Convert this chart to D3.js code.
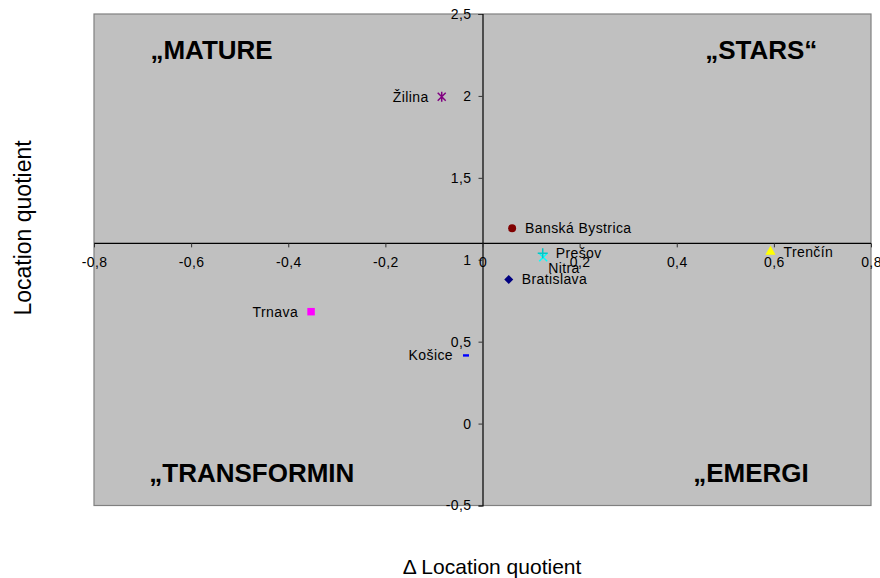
<!DOCTYPE html>
<html><head><meta charset="utf-8">
<script src="https://cdn.jsdelivr.net/npm/d3@7"></script>
<style>body{margin:0;background:#fff;} text{font-family:"Liberation Sans",Arial,sans-serif;}</style>
</head><body>
<svg id="c" width="880" height="578"></svg>
<script>
// ---- data ----
const regions = ["Bratislava","Trnava","Trenčín","Nitra","Žilina","Banská Bystrica","Prešov","Košice"];
const deltaLQ = [0.054, -0.353, 0.593, 0.125, -0.084, 0.061, 0.124, -0.034];
const lq      = [0.88, 0.683, 1.049, 1.015, 1.995, 1.192, 1.039, 0.416];
const xTicks = [-0.8,-0.6,-0.4,-0.2,0,0.2,0.4,0.6,0.8];
const yTicks = [-0.5,0,0.5,1,1.5,2,2.5];
const quadrantLabels = ["„MATURE","„STARS“","„TRANSFORMIN","„EMERGI"];
const xTitle = "\u0394 Location quotient";
const yTitle = "Location quotient";
const axisCrossY = 1.1;

// ---- styling (not data) ----
const markerTypes = ["diamond","square","triangle","x","star","circle","plus","dash"];
const markerColors = ["#000080","#FF00FF","#FFFF00","#00FFFF","#800080","#800000","#00C8C8","#0000FF"];
const labelSide = ["right","left","right","below","left","right","right","left"];

const svg = d3.select("#c");
const L = 94, R = 871, T = 14, B = 505.5;
const x = d3.scaleLinear().domain([-0.8,0.8]).range([L,R]);
const y = d3.scaleLinear().domain([-0.5,2.5]).range([B,T]);
const fmt = d => String(d).replace(".", ",");

svg.append("rect").attr("x",L).attr("y",T).attr("width",R-L).attr("height",B-T)
  .attr("fill","#C0C0C0").attr("stroke","#808080").attr("stroke-width",1.2);

// quadrant labels (centres in data space)
const ql = [[-0.558, 2.28],[0.574, 2.28],[-0.475, -0.3],[0.553, -0.3]];
quadrantLabels.forEach((t,i)=>{
  svg.append("text").attr("x",x(ql[i][0])).attr("y",y(ql[i][1])).attr("text-anchor","middle")
    .attr("dominant-baseline","central").style("font-size","26px").attr("font-weight","bold")
    .attr("fill","#000").text(t);
});

// Y axis at x=0
const yAxis = d3.axisLeft(y).tickValues(yTicks).tickFormat(fmt).tickSize(4).tickPadding(7);
const gy = svg.append("g").attr("transform",`translate(${x(0)},0)`).call(yAxis);
// X axis crossing at y=axisCrossY
const xAxis = d3.axisBottom(x).tickValues(xTicks).tickFormat(fmt).tickSize(4).tickPadding(10);
const gx = svg.append("g").attr("transform",`translate(0,${y(axisCrossY)})`).call(xAxis);
[gx,gy].forEach(g=>{
  g.attr("font-size",null).attr("font-family",null);
  g.select(".domain").attr("stroke","#000").attr("stroke-width",1.2);
  g.selectAll(".tick line").attr("stroke","#333");
  g.selectAll(".tick text").style("font-size","14px").style("letter-spacing","0.4px").attr("fill","#000")
   .style("font-family","'Liberation Sans',Arial,sans-serif");
});
gx.select(".domain").attr("d",`M${L},0H${R}`);

// markers
const sym = {
  square: d3.symbol().type(d3.symbolSquare).size(56)(),
  triangle: d3.symbol().type(d3.symbolTriangle).size(45)(),
  circle: d3.symbol().type(d3.symbolCircle).size(50)()
};
regions.forEach((r,i)=>{
  const cx = x(deltaLQ[i]), cy = y(lq[i]);
  const g = svg.append("g").attr("transform",`translate(${cx},${cy})`);
  const c = markerColors[i], t = markerTypes[i];
  if (sym[t]) g.append("path").attr("d",sym[t]).attr("fill",c);
  else if (t==="diamond") g.append("path").attr("d","M0,-4.5L4.5,0L0,4.5L-4.5,0Z").attr("fill",c);
  else if (t==="x") g.append("path").attr("d","M-4,-4L4,4M-4,4L4,-4").attr("stroke",c).attr("stroke-width",1.5);
  else if (t==="plus") g.append("path").attr("d","M-5,0H5M0,-5V5").attr("stroke",c).attr("stroke-width",1.5);
  else if (t==="star") g.append("path").attr("d","M-4,-4L4,4M-4,4L4,-4M0,-5V5").attr("stroke",c).attr("stroke-width",1.5);
  else if (t==="dash") g.append("rect").attr("x",-3).attr("y",-1.2).attr("width",6).attr("height",2.4).attr("fill",c);
  const side = labelSide[i];
  const tx = svg.append("text").style("font-size","14px").style("letter-spacing","0.4px")
    .attr("fill","#000").text(r).attr("dominant-baseline","central");
  if (side==="right") tx.attr("x",cx+13).attr("y",cy);
  else if (side==="left") tx.attr("x",cx-13).attr("y",cy).attr("text-anchor","end");
  else tx.attr("x",cx+5).attr("y",cy+11);
});

// axis titles
svg.append("text").attr("x",492).attr("y",574).attr("text-anchor","middle")
  .style("font-size","21px").attr("fill","#000").text(xTitle);
svg.append("text").attr("transform","translate(31,228) rotate(-90)").attr("text-anchor","middle")
  .style("font-size","23px").attr("fill","#000").text(yTitle);
</script>
</body></html>
